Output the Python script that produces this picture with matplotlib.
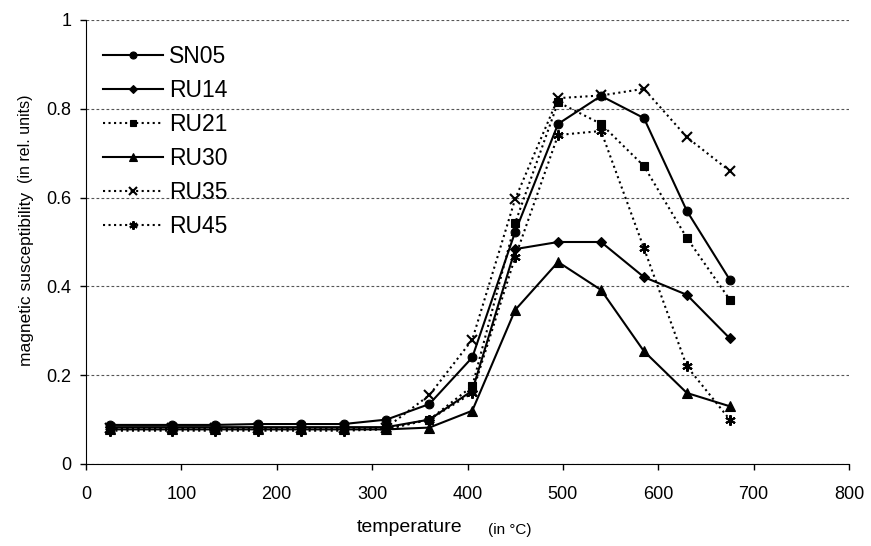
import matplotlib
matplotlib.use("Agg")
import matplotlib.pyplot as plt

plt.rcParams['font.family'] = ['Liberation Sans', 'DejaVu Sans']

temperature = [25, 90, 135, 180, 225, 270, 315, 360, 405, 450, 495, 540, 585, 630, 675]

sn05 = [0.088, 0.088, 0.088, 0.090, 0.090, 0.090, 0.100, 0.135, 0.240, 0.523, 0.766, 0.829, 0.779, 0.570, 0.415]
ru14 = [0.083, 0.083, 0.083, 0.083, 0.083, 0.083, 0.083, 0.100, 0.165, 0.484, 0.500, 0.500, 0.421, 0.381, 0.283]
ru21 = [0.080, 0.080, 0.080, 0.080, 0.080, 0.080, 0.080, 0.100, 0.175, 0.543, 0.815, 0.766, 0.671, 0.509, 0.370]
ru30 = [0.078, 0.078, 0.078, 0.078, 0.078, 0.078, 0.078, 0.082, 0.120, 0.347, 0.455, 0.392, 0.254, 0.160, 0.130]
ru35 = [0.080, 0.080, 0.080, 0.080, 0.080, 0.080, 0.082, 0.155, 0.280, 0.597, 0.824, 0.830, 0.845, 0.736, 0.660]
ru45 = [0.075, 0.075, 0.075, 0.075, 0.075, 0.075, 0.078, 0.100, 0.160, 0.466, 0.741, 0.750, 0.486, 0.220, 0.100]

# name, values, marker, line style, marker size
series = [
    ("SN05", sn05, "o", "-", 6.3),
    ("RU14", ru14, "D", "-", 5.3),
    ("RU21", ru21, "s", ":", 5.8),
    ("RU30", ru30, "^", "-", 7.0),
    ("RU35", ru35, "x", ":", 7.0),
    ("RU45", ru45, (6, 2, 0), ":", 7.5),
]

fig = plt.figure(figsize=(8.71, 5.46), dpi=100)
ax = fig.add_axes([86 / 871, 1 - 464 / 546, (849 - 86) / 871, (464 - 20) / 546])

for name, vals, mk, ls, ms in series:
    thin = mk in ("x", (6, 2, 0))
    ax.plot(temperature, vals, color="black", linestyle=ls, linewidth=1.5,
            marker=mk, markersize=ms, markeredgewidth=1.5 if thin else 0.8,
            label=name, clip_on=False)

ax.set_xlim(0, 800)
ax.set_ylim(0, 1)
ax.set_xticks(range(0, 801, 100))
ax.set_yticks([0, 0.2, 0.4, 0.6, 0.8, 1])
ax.set_yticklabels(["0", "0.2", "0.4", "0.6", "0.8", "1"])
ax.tick_params(direction="out", length=4.5, width=1, labelsize=13)
ax.tick_params(axis="x", pad=11)
ax.tick_params(axis="y", pad=6)
ax.yaxis.grid(True, linestyle=(0, (2.5, 2)), color="#555555", linewidth=0.8)
ax.set_axisbelow(True)
for s in ("top", "right"):
    ax.spines[s].set_visible(False)

leg = ax.legend(loc="upper left", bbox_to_anchor=(17 / 763, 1 - 25 / 444), frameon=False,
                fontsize=16.5, handlelength=2.6, labelspacing=0.48, handletextpad=0.3,
                borderpad=0, borderaxespad=0, markerscale=0.8)

# axis titles, each in a large and a small part
fig.text(26 / 871, 1 - 279 / 546, "magnetic susceptibility", rotation=90,
         ha="center", va="center", fontsize=12.5)
fig.text(25.5 / 871, 1 - 139 / 546, "(in rel. units)", rotation=90,
         ha="center", va="center", fontsize=11.5)
fig.text(410 / 871, 1 - 528 / 546, "temperature", ha="center", va="center", fontsize=14)
fig.text(510 / 871, 1 - 530 / 546, "(in °C)", ha="center", va="center", fontsize=11)

fig.savefig("out.png", dpi=100)
